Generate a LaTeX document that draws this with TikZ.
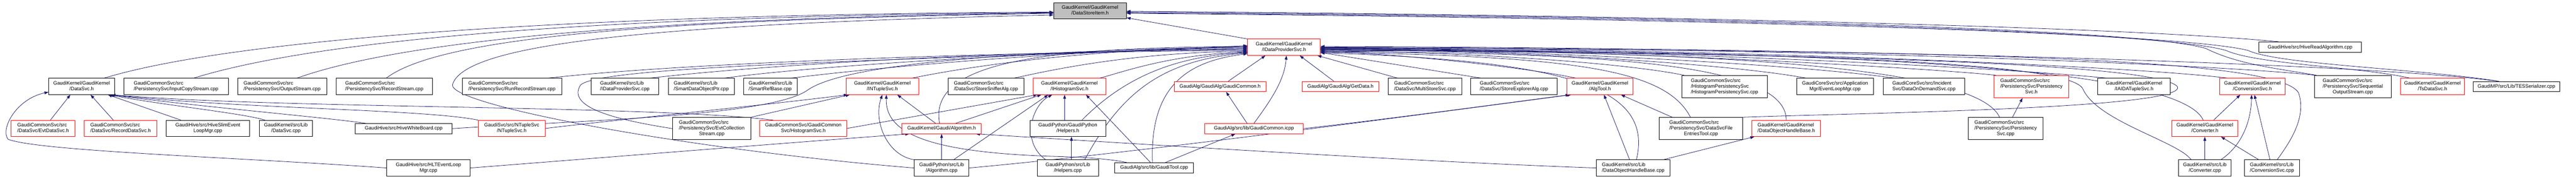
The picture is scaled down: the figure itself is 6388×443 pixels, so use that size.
\documentclass[tikz,border=0pt]{standalone}
\usepackage{fontspec}
\setmainfont{Liberation Sans}
\usetikzlibrary{arrows.meta}
\definecolor{edgeblue}{HTML}{191970}
\definecolor{rootgray}{HTML}{BFBFBF}
\newcommand{\mytc}[1]{\begin{tabular}{@{}c@{}}#1\end{tabular}}
\newcommand{\mytl}[1]{\begin{tabular}{@{}l@{}}#1\end{tabular}}
\newcommand{\mylc}[1]{\multicolumn{1}{@{}c@{}}{#1}}
\pgfdeclarelayer{bg}
\pgfsetlayers{bg,main}
\tikzset{
  box/.style={draw=black, line width=1.2pt, inner sep=0pt, fill=white, font=\fontsize{12.3}{14}\selectfont},
  rbox/.style={box, draw=red},
  gbox/.style={box, fill=rootgray},
  edge/.style={draw=edgeblue, line width=1pt, {Triangle[length=10pt,width=7pt]}-},
}
\begin{document}
\begin{tikzpicture}[x=1pt,y=-1pt]
\useasboundingbox (0,0) rectangle (6388,443);
% row 0/1
\node[gbox, minimum width=180pt, minimum height=40pt] (DSI) at (2703,27) {\mytc{GaudiKernel/GaudiKernel\\/DataStoreItem.h}};
\node[rbox, minimum width=180pt, minimum height=40pt] (IDP) at (3184,117) {\mytc{GaudiKernel/GaudiKernel\\/IDataProviderSvc.h}};
\node[box, minimum width=255pt, minimum height=26pt] (HRA) at (5728.5,117) {GaudiHive/src/HiveReadAlgorithm.cpp};
% row 2
\node[box, minimum width=163pt, minimum height=40pt] (dsvch) at (202.5,214) {\mytc{GaudiKernel/GaudiKernel\\/DataSvc.h}};
\node[box, minimum width=259pt, minimum height=40pt] (ics) at (436.5,214) {\mytl{GaudiCommonSvc/src\\/PersistencySvc/InputCopyStream.cpp}};
\node[box, minimum width=221pt, minimum height=40pt] (ost) at (699.5,214) {\mytl{GaudiCommonSvc/src\\/PersistencySvc/OutputStream.cpp}};
\node[box, minimum width=240pt, minimum height=40pt] (rst) at (953,214) {\mytl{GaudiCommonSvc/src\\/PersistencySvc/RecordStream.cpp}};
\node[box, minimum width=247pt, minimum height=40pt] (rrs) at (1269.5,214) {\mytl{GaudiCommonSvc/src\\/PersistencySvc/RunRecordStream.cpp}};
\node[box, minimum width=167pt, minimum height=40pt] (idpcpp) at (1549.5,214) {\mytl{GaudiKernel/src/Lib\\/IDataProviderSvc.cpp}};
\node[box, minimum width=164pt, minimum height=40pt] (sdop) at (1739,214) {\mytl{GaudiKernel/src/Lib\\/SmartDataObjectPtr.cpp}};
\node[box, minimum width=133pt, minimum height=40pt] (srb) at (1910.5,214) {\mytl{GaudiKernel/src/Lib\\/SmartRefBase.cpp}};
\node[rbox, minimum width=180pt, minimum height=40pt] (ints) at (2188,214) {\mytc{GaudiKernel/GaudiKernel\\/INTupleSvc.h}};
\node[box, minimum width=188pt, minimum height=40pt] (ssa) at (2445,214) {\mytl{GaudiCommonSvc/src\\/DataSvc/StoreSnifferAlg.cpp}};
\node[rbox, minimum width=180pt, minimum height=40pt] (ihs) at (2652,214) {\mytc{GaudiKernel/GaudiKernel\\/IHistogramSvc.h}};
\node[rbox, minimum width=227pt, minimum height=25pt] (gch) at (3025.5,214.5) {GaudiAlg/GaudiAlg/GaudiCommon.h};
\node[rbox, minimum width=190pt, minimum height=25pt] (gd) at (3324,214.5) {GaudiAlg/GaudiAlg/GetData.h};
\node[box, minimum width=183pt, minimum height=40pt] (mss) at (3533.5,214) {\mytl{GaudiCommonSvc/src\\/DataSvc/MultiStoreSvc.cpp}};
\node[box, minimum width=215pt, minimum height=40pt] (sea) at (3754.5,214) {\mytl{GaudiCommonSvc/src\\/DataSvc/StoreExplorerAlg.cpp}};
\node[rbox, minimum width=163pt, minimum height=40pt] (at) at (3967.5,214) {\mytc{GaudiKernel/GaudiKernel\\/AlgTool.h}};
\node[box, minimum width=213pt, minimum height=55pt] (hps) at (4276.5,214.5) {\mytl{GaudiCommonSvc/src\\/HistogramPersistencySvc\\/HistogramPersistencySvc.cpp}};
\node[box, minimum width=191pt, minimum height=40pt] (elm) at (4550.5,214) {\mytc{GaudiCoreSvc/src/Application\\Mgr/EventLoopMgr.cpp}};
\node[box, minimum width=202pt, minimum height=40pt] (dod) at (4771,214) {\mytl{GaudiCoreSvc/src/Incident\\Svc/DataOnDemandSvc.cpp}};
\node[rbox, minimum width=185pt, minimum height=55pt] (psh) at (5037.5,214.5) {\mytl{GaudiCommonSvc/src\\/PersistencySvc/Persistency\\\mylc{Svc.h}}};
\node[box, minimum width=180pt, minimum height=40pt] (aida) at (5292,214) {\mytc{GaudiKernel/GaudiKernel\\/IAIDATupleSvc.h}};
\node[rbox, minimum width=163pt, minimum height=40pt] (csh) at (5585.5,214) {\mytc{GaudiKernel/GaudiKernel\\/ConversionSvc.h}};
\node[box, minimum width=191pt, minimum height=55pt] (sos) at (5834.5,214.5) {\mytl{GaudiCommonSvc/src\\/PersistencySvc/Sequential\\\mylc{OutputStream.cpp}}};
\node[rbox, minimum width=158pt, minimum height=40pt] (tsd) at (6032,214) {\mytc{GaudiKernel/GaudiKernel\\/TsDataSvc.h}};
\node[box, minimum width=214pt, minimum height=25pt] (tes) at (6240,214.5) {GaudiMP/src/Lib/TESSerializer.cpp};
% row 3
\node[rbox, minimum width=158pt, minimum height=40pt] (evt) at (107,318) {\mytl{GaudiCommonSvc/src\\/DataSvc/EvtDataSvc.h}};
\node[rbox, minimum width=180pt, minimum height=40pt] (rds) at (299,318) {\mytl{GaudiCommonSvc/src\\/DataSvc/RecordDataSvc.h}};
\node[box, minimum width=207pt, minimum height=40pt] (hse) at (515.5,318) {\mytc{GaudiHive/src/HiveSlimEvent\\LoopMgr.cpp}};
\node[box, minimum width=132pt, minimum height=40pt] (dscpp) at (709,318) {\mytc{GaudiKernel/src/Lib\\/DataSvc.cpp}};
\node[box, minimum width=240pt, minimum height=25pt] (hwb) at (1001,318.5) {GaudiHive/src/HiveWhiteBoard.cpp};
\node[rbox, minimum width=166pt, minimum height=40pt] (nts) at (1269,318) {\mytc{GaudiSvc/src/NTupleSvc\\/NTupleSvc.h}};
\node[box, minimum width=194pt, minimum height=55pt] (ecs) at (1765,318.5) {\mytl{GaudiCommonSvc/src\\/PersistencySvc/EvtCollection\\\mylc{Stream.cpp}}};
\node[rbox, minimum width=216pt, minimum height=40pt] (hsh) at (1992,318) {\mytc{GaudiCommonSvc/GaudiCommon\\Svc/HistogramSvc.h}};
\node[rbox, minimum width=196pt, minimum height=25pt] (algh) at (2335,318.5) {GaudiKernel/Gaudi/Algorithm.h};
\node[box, minimum width=188pt, minimum height=40pt] (hlph) at (2648,318) {\mytc{GaudiPython/GaudiPython\\/Helpers.h}};
\node[rbox, minimum width=243pt, minimum height=25pt] (gcicpp) at (3109.5,318.5) {GaudiAlg/src/lib/GaudiCommon.icpp};
\node[box, minimum width=206pt, minimum height=55pt] (dsfe) at (4218,318.5) {\mytl{GaudiCommonSvc/src\\/PersistencySvc/DataSvcFile\\\mylc{EntriesTool.cpp}}};
\node[rbox, minimum width=169pt, minimum height=40pt] (dohbh) at (4429.5,318) {\mytl{GaudiKernel/GaudiKernel\\/DataObjectHandleBase.h}};
\node[box, minimum width=185pt, minimum height=55pt] (pscpp) at (4973.5,318.5) {\mytl{GaudiCommonSvc/src\\/PersistencySvc/Persistency\\\mylc{Svc.cpp}}};
\node[rbox, minimum width=163pt, minimum height=40pt] (cvh) at (5467.5,318) {\mytc{GaudiKernel/GaudiKernel\\/Converter.h}};
% row 4
\node[box, minimum width=207pt, minimum height=40pt] (hlt) at (1062.5,416) {\mytc{GaudiHive/src/HLTEventLoop\\Mgr.cpp}};
\node[box, minimum width=136pt, minimum height=40pt] (pyalg) at (2335,416) {\mytc{GaudiPython/src/Lib\\/Algorithm.cpp}};
\node[box, minimum width=152pt, minimum height=40pt] (hlpcpp) at (2648,416) {\mytc{GaudiPython/src/Lib\\/Helpers.cpp}};
\node[box, minimum width=196pt, minimum height=25pt] (gt) at (2862,415.5) {GaudiAlg/src/lib/GaudiTool.cpp};
\node[box, minimum width=182pt, minimum height=40pt] (dohbcpp) at (4050,416) {\mytl{GaudiKernel/src/Lib\\/DataObjectHandleBase.cpp}};
\node[box, minimum width=131pt, minimum height=40pt] (cvcpp) at (5467.5,416) {\mytc{GaudiKernel/src/Lib\\/Converter.cpp}};
\node[box, minimum width=136pt, minimum height=40pt] (cssvc) at (5634,416) {\mytl{GaudiKernel/src/Lib\\/ConversionSvc.cpp}};

\begin{pgfonlayer}{bg}
% DataStoreItem.h
\draw[edge] ([yshift=-3pt]DSI.west) .. controls (1500,35) and (600,90) .. ([xshift=56pt]dsvch.north);
\draw[edge] ([yshift=-4pt]DSI.west) .. controls (1500,40) and (800,95) .. ([xshift=44pt]ics.north);
\draw[edge] ([yshift=-5pt]DSI.west) .. controls (1600,45) and (1000,100) .. ([xshift=37pt]ost.north);
\draw[edge] ([yshift=-6pt]DSI.west) .. controls (1700,48) and (1100,85) .. ([xshift=5pt]rst.north);
\draw[edge] ([yshift=-10pt]DSI.west) .. controls (1600,60) and (1150,110) .. (1122,210) .. controls (1115,260) and (1700,370) .. (pyalg.west);
\draw[edge] ([yshift=-17pt]DSI.east) -- (IDP.north west);
\draw[edge] ([yshift=-1pt]DSI.east) .. controls (3800,35) and (5200,60) .. ([xshift=-78pt]HRA.north);
\draw[edge] ([yshift=-3pt]DSI.east) .. controls (4200,40) and (5300,70) .. (5470,120) .. controls (5550,160) and (5650,170) .. ([xshift=-90pt]sos.north);
\draw[edge] ([yshift=-5pt]DSI.east) .. controls (4200,42) and (5350,75) .. (5520,125) .. controls (5600,160) and (5850,165) .. ([xshift=-56pt]tsd.north);
\draw[edge] ([yshift=-6pt]DSI.east) .. controls (4200,45) and (5400,80) .. (5575,125) .. controls (5650,160) and (6000,170) .. ([xshift=-43pt]tes.north);
% IDataProviderSvc.h, left
\draw[edge] ([yshift=-8pt]IDP.west) .. controls (2500,128) and (1700,155) .. ([xshift=90pt]rrs.north);
\draw[edge] ([yshift=-6pt]IDP.west) .. controls (2500,125) and (1900,160) .. ([xshift=63pt]idpcpp.north);
\draw[edge] ([yshift=-4pt]IDP.west) .. controls (2600,125) and (2000,165) .. ([xshift=58pt]sdop.north);
\draw[edge] ([yshift=-2pt]IDP.west) .. controls (2650,122) and (2150,170) .. ([xshift=52pt]srb.north);
\draw[edge] ([yshift=0pt]IDP.west) .. controls (2700,120) and (2400,165) .. ([xshift=74pt]ints.north);
\draw[edge] ([yshift=-10pt]IDP.west) .. controls (2800,130) and (2600,175) .. ([xshift=70pt]ssa.north);
\draw[edge] ([yshift=-12pt]IDP.west) .. controls (2900,135) and (2780,180) .. ([xshift=75pt]ihs.north);
\draw[edge] ([yshift=2pt]IDP.west) .. controls (2600,118) and (2300,150) .. ([xshift=-5pt]algh.north);
\draw[edge] ([yshift=-13pt]IDP.west) .. controls (2900,140) and (2780,200) .. ([xshift=35pt]hlph.north);
\draw[edge] ([yshift=-14pt]IDP.west) .. controls (2880,150) and (2780,230) .. ([xshift=42pt]hlpcpp.north);
\draw[edge] ([yshift=-16pt]IDP.west) .. controls (2960,150) and (2850,200) .. ([xshift=-4pt]gt.north);
\draw[edge] ([yshift=4pt]IDP.west) .. controls (2300,150) and (1500,160) .. (1440,210) .. controls (1400,270) and (1550,300) .. (ecs.west);
\draw[edge] ([yshift=1pt]IDP.west) .. controls (2600,125) and (2100,150) .. (2000,225) .. controls (1900,290) and (1400,300) .. (hwb.east);
% IDataProviderSvc.h, bottom
\draw[edge] ([xshift=-46pt]IDP.south) -- ([xshift=20pt]gch.north);
\draw[edge] ([xshift=6pt]IDP.south) .. controls (3185,200) and (3150,250) .. (gcicpp.north);
\draw[edge] ([xshift=39pt]IDP.south) -- ([xshift=-16pt]gd.north);
\draw[edge] ([xshift=83pt]IDP.south) -- ([xshift=-68pt]mss.north);
% IDataProviderSvc.h, right
\draw[edge] ([yshift=-13pt]IDP.east) -- ([xshift=-82pt]sea.north);
\draw[edge] ([yshift=-10pt]IDP.east) .. controls (3500,135) and (3800,170) .. ([xshift=-60pt]at.north);
\draw[edge] ([yshift=-9pt]IDP.east) .. controls (3700,130) and (4050,160) .. ([xshift=-100pt]hps.north);
\draw[edge] ([yshift=-6pt]IDP.east) .. controls (3800,125) and (4300,160) .. ([xshift=-72pt]elm.north);
\draw[edge] ([yshift=-5pt]IDP.east) .. controls (3900,125) and (4500,165) .. ([xshift=-74pt]dod.north);
\draw[edge] ([yshift=-3pt]IDP.east) .. controls (4000,122) and (4800,170) .. ([xshift=-88pt]psh.north);
\draw[edge] ([yshift=-2pt]IDP.east) .. controls (4100,122) and (5000,170) .. ([xshift=-69pt]aida.north);
\draw[edge] ([yshift=-1pt]IDP.east) .. controls (4300,120) and (5300,165) .. ([xshift=-62pt]csh.north);
\draw[edge] ([yshift=0pt]IDP.east) .. controls (4500,118) and (5500,160) .. ([xshift=-93pt]sos.north);
\draw[edge] ([yshift=2pt]IDP.east) .. controls (4700,120) and (5900,160) .. ([xshift=-45pt]tes.north);
\draw[edge] ([yshift=-11pt]IDP.east) .. controls (4000,130) and (4430,160) .. (dohbh.north);
\draw[edge] ([yshift=-12pt]IDP.east) .. controls (3900,140) and (4130,170) .. ([xshift=-26pt]dsfe.north);
\draw[edge] ([yshift=-14pt]IDP.east) .. controls (3900,150) and (4100,220) .. ([xshift=8pt]dohbcpp.north);
\draw[edge] ([yshift=-7pt]IDP.east) .. controls (4200,125) and (4900,160) .. ([xshift=-15pt]pscpp.north);
\draw[edge] ([yshift=-4pt]IDP.east) .. controls (4500,125) and (5400,160) .. ([xshift=-4pt]cvh.north);
\draw[edge] ([yshift=-2pt]IDP.east) .. controls (4800,125) and (5650,140) .. (5700,230) .. controls (5720,290) and (5680,350) .. ([xshift=13pt]cssvc.north);
\draw[edge] ([yshift=-5pt]IDP.east) .. controls (4400,130) and (5130,150) .. (5165,220) .. controls (5200,300) and (5400,350) .. ([xshift=-34pt]cvcpp.north);
\draw[edge] ([yshift=-8pt]IDP.east) .. controls (4300,130) and (5350,150) .. (5400,215) .. controls (5420,270) and (4600,280) .. ([xshift=103pt]dsfe.north);
% DataSvc.h
\draw[edge] ([xshift=-28pt]dsvch.south) -- ([xshift=18pt]evt.north);
\draw[edge] ([xshift=22pt]dsvch.south) -- ([xshift=-18pt]rds.north);
\draw[edge] ([xshift=65pt]dsvch.south) -- ([xshift=-67pt]hse.north);
\draw[edge] ([xshift=68pt]dsvch.south) .. controls (400,260) and (600,280) .. ([xshift=-52pt]dscpp.north);
\draw[edge] ([xshift=70pt]dsvch.south) .. controls (500,265) and (800,290) .. ([xshift=-94pt]hwb.north);
\draw[edge] ([xshift=72pt]dsvch.south) .. controls (600,270) and (1050,270) .. (nts.north west);
\draw[edge] ([xshift=74pt]dsvch.south) .. controls (700,270) and (1600,260) .. ([xshift=-75pt]hsh.north);
\draw[edge] ([yshift=-14pt]dsvch.west) .. controls (40,245) and (0,320) .. (20,345) .. controls (100,375) and (600,390) .. (hlt.west);
% INTupleSvc.h
\draw[edge] ([xshift=5pt]ints.south west) .. controls (1900,260) and (1500,300) .. (nts.east);
\draw[edge] ([xshift=10pt]ints.south west) -- ([xshift=97pt]ecs.north);
\draw[edge] ([xshift=37pt]ints.south) -- ([xshift=-15pt]algh.north);
\draw[edge] (ints.south) .. controls (2165,300) and (2200,385) .. (pyalg.north west);
\draw[edge] ([xshift=10pt]ints.south) .. controls (2195,330) and (2300,380) .. (2640,388) .. controls (2700,390) and (2760,395) .. ([xshift=-68pt]gt.north);
% IHistogramSvc.h
\draw[edge] ([xshift=11pt]ihs.south west) -- (hsh.east);
\draw[edge] ([xshift=21pt]ihs.south west) -- ([xshift=35pt]algh.north);
\draw[edge] ([xshift=38pt]ihs.south west) -- ([xshift=30pt]pyalg.north);
\draw[edge] ([xshift=48pt]ihs.south west) .. controls (2560,260) and (2530,350) .. ([xshift=-55pt]hlpcpp.north);
\draw[edge] ([xshift=-12pt]ihs.south) -- ([xshift=-8pt]hlph.north);
\draw[edge] ([xshift=41pt]ihs.south) -- ([xshift=-9pt]gt.north);
% Algorithm.h
\draw[edge] (algh.south) -- (pyalg.north);
\draw[edge] ([xshift=-80pt]algh.south) .. controls (2000,350) and (1500,390) .. (hlt.east);
\draw[edge] ([xshift=85pt]algh.south) .. controls (2800,355) and (3500,400) .. (dohbcpp.west);
% Helpers.h
\draw[edge] ([xshift=9pt]hlph.south) -- ([xshift=9pt]hlpcpp.north);
% GaudiCommon.h / .icpp
\draw[edge] ([xshift=15pt]gch.south) -- ([xshift=-17pt]gcicpp.north);
\draw[edge] ([xshift=-46pt]gcicpp.south) -- ([xshift=28pt]gt.north);
% AlgTool.h
\draw[edge] ([xshift=11pt]at.south west) .. controls (3400,300) and (2800,380) .. (pyalg.east);
\draw[edge] ([xshift=7pt]at.south west) .. controls (3700,260) and (3400,300) .. (gcicpp.east);
\draw[edge] ([xshift=10pt]at.south) -- ([xshift=-9pt]dohbcpp.north);
\draw[edge] ([xshift=52pt]at.south) -- ([xshift=-71pt]dsfe.north);
% DataObjectHandleBase.h
\draw[edge] ([xshift=-79pt]dohbh.south) -- ([xshift=75pt]dohbcpp.north);
% PersistencySvc.h
\draw[edge] ([xshift=-22pt]psh.south) -- ([xshift=17pt]pscpp.north);
% ConversionSvc.h
\draw[edge] ([xshift=-30pt]csh.south) -- ([xshift=22pt]cvh.north);
\draw[edge] ([xshift=-2pt]csh.south) .. controls (5582,300) and (5560,360) .. ([xshift=40pt]cvcpp.north);
\draw[edge] ([xshift=5pt]csh.south) -- ([xshift=-5pt]cssvc.north);
% Converter.h
\draw[edge] (cvh.south) -- (cvcpp.north);
\draw[edge] ([xshift=40pt]cvh.south) -- ([xshift=-33pt]cssvc.north);
\end{pgfonlayer}
\end{tikzpicture}
\end{document}
